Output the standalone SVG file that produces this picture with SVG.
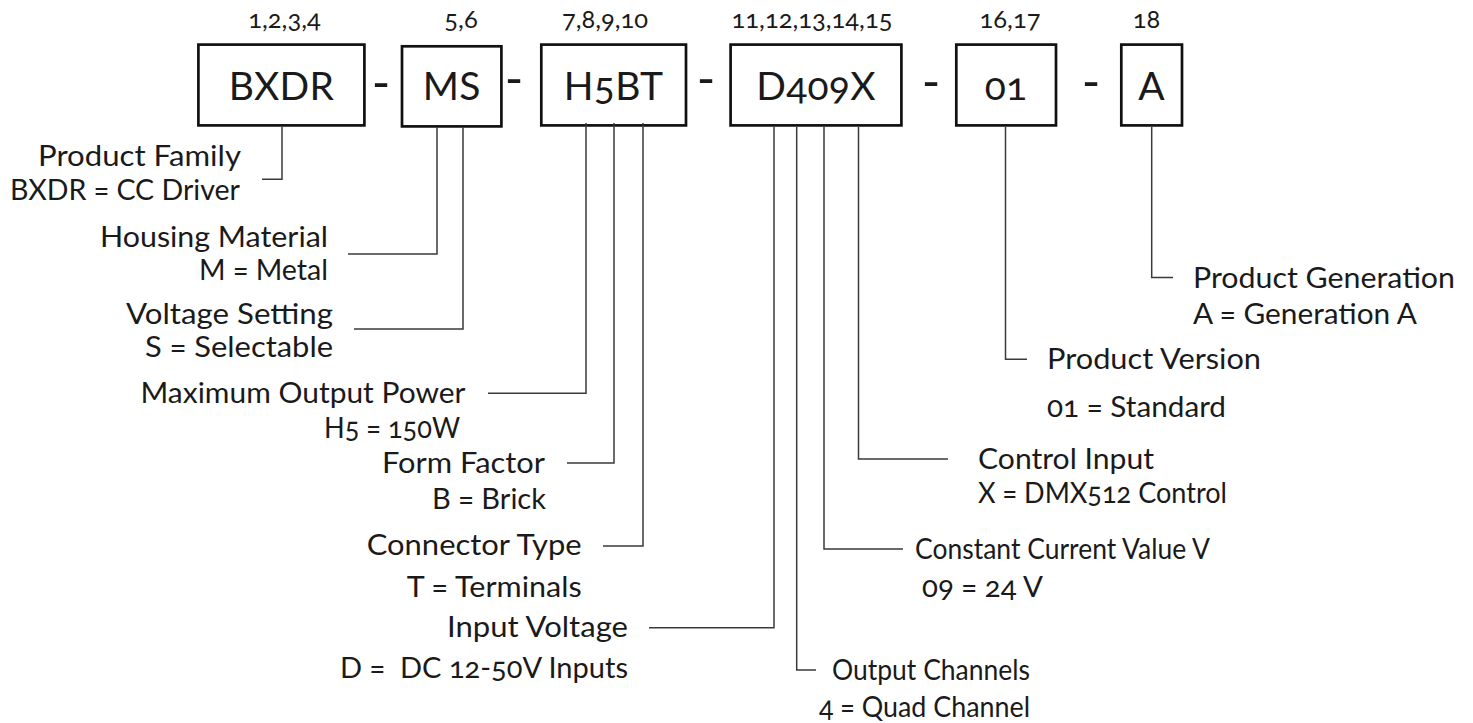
<svg xmlns="http://www.w3.org/2000/svg" width="1473" height="723" viewBox="0 0 1473 723">
  <style>
    text { font-family: Lato, "Noto Sans", "DejaVu Sans", sans-serif; fill: #1a1a1a; font-variant-numeric: oldstyle-nums; font-feature-settings: "onum" 1; white-space: pre; }
    .box { fill: #ffffff; stroke: #111111; stroke-width: 2.7; }
    .code { font-size: 39px; text-anchor: middle; letter-spacing: 0.3px; }
    .hdr { font-size: 25.5px; text-anchor: middle; }
    .dash { font-size: 50px; text-anchor: middle; }
    .lbl { font-size: 29.5px; }
    .end { text-anchor: end; }
    .conn path { fill: none; stroke: #3a3a3a; stroke-width: 1.5; }
  </style>

  <!-- position headers -->
  <g id="headers">
    <text class="hdr" x="284.5" y="28">1,2,3,4</text>
    <text class="hdr" x="461" y="28">5,6</text>
    <text class="hdr" x="605" y="28">7,8,9,10</text>
    <text class="hdr" x="812" y="28">11,12,13,14,15</text>
    <text class="hdr" x="1010" y="28">16,17</text>
    <text class="hdr" x="1146.5" y="28">18</text>
  </g>

  <!-- code segments -->
  <g id="seg-bxdr">
    <rect class="box" x="198.4" y="44.6" width="166" height="80.8"/>
    <text class="code" x="281.5" y="100">BXDR</text>
  </g>
  <g id="seg-ms">
    <rect class="box" x="402" y="46.3" width="99.4" height="80.1"/>
    <text class="code" x="451.7" y="100">MS</text>
  </g>
  <g id="seg-h5bt">
    <rect class="box" x="541.3" y="44.6" width="144.7" height="80.8"/>
    <text class="code" x="613.6" y="100">H5BT</text>
  </g>
  <g id="seg-d409x">
    <rect class="box" x="730.6" y="44.6" width="170.8" height="80.8"/>
    <text class="code" x="816" y="100">D409X</text>
  </g>
  <g id="seg-01">
    <rect class="box" x="956.3" y="44.6" width="99.7" height="80.8"/>
    <text class="code" x="1006" y="100">01</text>
  </g>
  <g id="seg-a">
    <rect class="box" x="1121.3" y="44.6" width="60.7" height="80.8"/>
    <text class="code" x="1151.7" y="100">A</text>
  </g>

  <!-- separators -->
  <g id="separators">
    <text class="dash" x="381" y="100">-</text>
    <text class="dash" x="514" y="96">-</text>
    <text class="dash" x="706" y="96">-</text>
    <text class="dash" x="931" y="99">-</text>
    <text class="dash" x="1091" y="99">-</text>
  </g>

  <!-- leader lines from each segment to its description -->
  <g id="connectors" class="conn">
    <path d="M282,127 V179.3 H262"/>
    <path d="M437,127 V254 H348"/>
    <path d="M463,127 V329 H354"/>
    <path d="M586,123 V393.3 H488"/>
    <path d="M614,123 V463 H567"/>
    <path d="M643,123 V546 H603"/>
    <path d="M774,127 V627.7 H649"/>
    <path d="M796.7,127 V670 H816"/>
    <path d="M824,127 V549 H903"/>
    <path d="M858.5,127 V459 H948"/>
    <path d="M1005.5,127 V359.3 H1027"/>
    <path d="M1151.7,127 V277.5 H1173"/>
  </g>

  <!-- descriptions -->
  <g id="desc-family">
    <text class="lbl end" x="241" y="166" textLength="203" lengthAdjust="spacingAndGlyphs">Product Family</text>
    <text class="lbl end" x="240" y="200" textLength="230" lengthAdjust="spacingAndGlyphs">BXDR = CC Driver</text>
  </g>
  <g id="desc-housing">
    <text class="lbl end" x="328" y="247" textLength="228" lengthAdjust="spacingAndGlyphs">Housing Material</text>
    <text class="lbl end" x="328" y="280" textLength="129" lengthAdjust="spacingAndGlyphs">M = Metal</text>
  </g>
  <g id="desc-voltage">
    <text class="lbl end" x="333" y="324" textLength="207" lengthAdjust="spacingAndGlyphs">Voltage Setting</text>
    <text class="lbl end" x="333" y="357" textLength="188" lengthAdjust="spacingAndGlyphs">S = Selectable</text>
  </g>
  <g id="desc-power">
    <text class="lbl end" x="465.5" y="403" textLength="325" lengthAdjust="spacingAndGlyphs">Maximum Output Power</text>
    <text class="lbl end" x="460" y="438" textLength="136" lengthAdjust="spacingAndGlyphs">H5 = 150W</text>
  </g>
  <g id="desc-form">
    <text class="lbl end" x="545" y="473" textLength="163" lengthAdjust="spacingAndGlyphs">Form Factor</text>
    <text class="lbl end" x="546" y="509" textLength="114" lengthAdjust="spacingAndGlyphs">B = Brick</text>
  </g>
  <g id="desc-connector">
    <text class="lbl end" x="581.7" y="555" textLength="215" lengthAdjust="spacingAndGlyphs">Connector Type</text>
    <text class="lbl end" x="581.7" y="597" textLength="175" lengthAdjust="spacingAndGlyphs">T = Terminals</text>
  </g>
  <g id="desc-input">
    <text class="lbl end" x="628" y="637" textLength="181" lengthAdjust="spacingAndGlyphs">Input Voltage</text>
    <text class="lbl end" x="628" y="678" textLength="288" lengthAdjust="spacingAndGlyphs">D =  DC 12-50V Inputs</text>
  </g>
  <g id="desc-channels">
    <text class="lbl" x="832" y="680" textLength="198" lengthAdjust="spacingAndGlyphs">Output Channels</text>
    <text class="lbl" x="819" y="717" textLength="211" lengthAdjust="spacingAndGlyphs">4 = Quad Channel</text>
  </g>
  <g id="desc-current">
    <text class="lbl" x="915" y="559" textLength="295" lengthAdjust="spacingAndGlyphs">Constant Current Value V</text>
    <text class="lbl" x="922" y="597" textLength="121" lengthAdjust="spacingAndGlyphs">09 = 24 V</text>
  </g>
  <g id="desc-control">
    <text class="lbl" x="978" y="469" textLength="176" lengthAdjust="spacingAndGlyphs">Control Input</text>
    <text class="lbl" x="978" y="503" textLength="249" lengthAdjust="spacingAndGlyphs">X = DMX512 Control</text>
  </g>
  <g id="desc-version">
    <text class="lbl" x="1047" y="369" textLength="214" lengthAdjust="spacingAndGlyphs">Product Version</text>
    <text class="lbl" x="1047" y="417" textLength="179" lengthAdjust="spacingAndGlyphs">01 = Standard</text>
  </g>
  <g id="desc-generation">
    <text class="lbl" x="1193" y="288" textLength="262" lengthAdjust="spacingAndGlyphs">Product Generation</text>
    <text class="lbl" x="1193" y="324" textLength="224" lengthAdjust="spacingAndGlyphs">A = Generation A</text>
  </g>
</svg>
